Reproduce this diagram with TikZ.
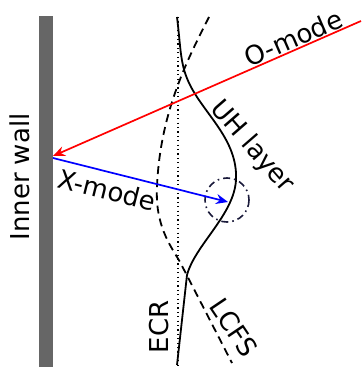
\documentclass[tikz,border=0pt]{standalone}
\usepackage{fontspec}
\setmainfont{DejaVu Sans}
\usetikzlibrary{arrows.meta,positioning,calc}
\definecolor{wallgray}{HTML}{666666}
\definecolor{navy}{HTML}{1A1A3A}

\begin{document}
\begin{tikzpicture}[x=0.5pt,y=-0.5pt,>={Stealth[length=6pt,width=5pt,inset=2pt]},
  lbl/.style={font=\fontsize{13}{15}\selectfont,inner sep=0pt},
  prof/.style={line width=0.9pt},
  ray/.style={->,line width=0.85pt}]
\useasboundingbox (0,0) rectangle (361,367);
% wall
\fill[wallgray] (39,16) rectangle (53,367);
\node[lbl,rotate=90] (wall) at (20,177) {Inner wall};
% ECR, LCFS and UH layer
\draw[prof,dash pattern=on 0.6pt off 1.6pt] (178,17) -- (178,367);
\draw[prof,dash pattern=on 4pt off 2.6pt] (209,17) .. controls (190,55) and (160,110) .. (157,187)
  .. controls (155,225) and (170,245) .. (180,262) -- (232,363);
\draw[prof] (177,17) .. controls (181,50) and (180,65) .. (190,85)
  .. controls (205,115) and (238,140) .. (236,180)
  .. controls (234,215) and (195,245) .. (187,275) -- (177,365);
\draw[navy,line width=0.8pt,dash pattern=on 3.5pt off 2pt on 0.8pt off 2pt] (227,200) circle[radius=22];
% rays
\coordinate (osrc) at (361,21);
\coordinate (whit) at (53,156);
\coordinate (xsrc) at (53,158);
\coordinate (uhit) at (228,202);
\draw[ray,red] (osrc)--(whit);
\draw[ray,blue] (xsrc)--(uhit);
% labels
\node[lbl,rotate=23.5] (omode) at (293,38) {O-mode};
\node[lbl,rotate=-14] (xmode) at (107,190) {X-mode};
\node[lbl,rotate=-49] (uh) at (252,147) {UH layer};
\node[lbl,rotate=90] (ecr) at (159,327) {ECR};
\node[lbl,rotate=-56] (lcfs) at (234,328) {LCFS};
\end{tikzpicture}
\end{document}
